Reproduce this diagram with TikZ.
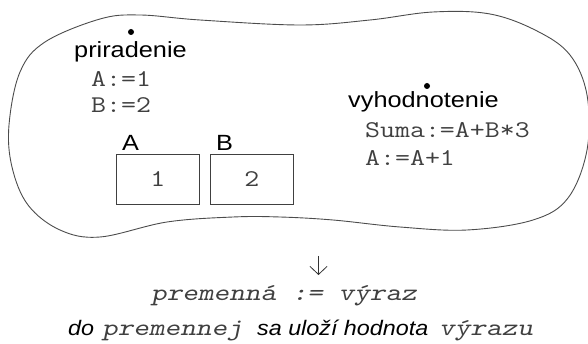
\documentclass[tikz,border=0pt]{standalone}
\usepackage{fontspec}
\usepackage{graphicx}
\setmainfont{Liberation Sans}
\usetikzlibrary{arrows.meta}
\newcommand\hsx[1]{\scalebox{1.15}[1]{#1}}
\newcommand\msx[1]{\scalebox{1.21}[1]{\ttfamily\color{black!75}#1}}
\newcommand\bsx[1]{\scalebox{1.11}[1]{\itshape #1}}
\newcommand\bmx[1]{\scalebox{1.24}[1]{\ttfamily\slshape\color{black!75}#1}}
\tikzset{
  lbl/.style={inner sep=0pt, anchor=base west, font=\fontsize{22}{26}\selectfont},
  code/.style={inner sep=0pt, anchor=base west, font=\fontsize{24}{28}\selectfont},
  cell/.style={draw=black!75, line width=0.9pt, inner sep=0pt, minimum width=83pt, minimum height=50pt, anchor=north west, font=\fontsize{24}{28}\selectfont},
  dotm/.style={fill=black, circle, inner sep=0pt, minimum size=6pt},
  blob/.style={draw=black!70, line width=0.9pt},
  bsans/.style={inner sep=0pt, anchor=base west, font=\fontsize{21}{25}\selectfont},
  bmono/.style={inner sep=0pt, anchor=base west, font=\fontsize{24}{28}\selectfont}
}
\begin{document}
\begin{tikzpicture}[x=1pt,y=-1pt]
\useasboundingbox (0,0) rectangle (588,344);
\draw[blob] plot[smooth cycle, tension=0.6] coordinates {
 (9,125) (20,72) (45,42) (100,19) (140,15) (200,20) (300,25) (370,20) (433,12) (490,14) (537,31) (570,55) (587,95) (587,150) (568,198) (533,220) (467,230) (400,227) (333,220) (280,217) (233,217) (167,222) (100,237) (60,230) (28,205) (12,167)};
% dots
\node[dotm] (d1) at (131,32) {};
\node[dotm] (d2) at (427,86) {};
% left group
\node[lbl] (pri) at (74,58) {\hsx{priradenie}};
\node[code] (c1) at (91,87) {\msx{A:=1}};
\node[code] (c2) at (91,113) {\msx{B:=2}};
\node[lbl] (la) at (122,151) {\hsx{A}};
\node[lbl] (lb) at (216,151) {\hsx{B}};
\node[cell] (ba) at (116,154) {\msx{1}};
\node[cell] (bb) at (210,154) {\msx{2}};
% right group
\node[lbl] (vyh) at (348,108) {\hsx{vyhodnotenie}};
\node[code] (c3) at (365,138) {\msx{Suma:=A+B*3}};
\node[code] (c4) at (365,166) {\msx{A:=A+1}};
% arrow
\coordinate (at) at (318.5,256);
\coordinate (ab) at (318.5,275);
\draw[black!80, line width=0.8pt, -{Straight Barb[length=8pt,width=17pt,line width=0.8pt]}] (at) -- (ab);
% bottom text
\node[bmono] (l1) at (151,300) {\bmx{premenná := výraz}};
\node[bsans] (w1) at (68,335) {\bsx{do}};
\node[bmono] (w2) at (102,335) {\bmx{premennej}};
\node[bsans] (w3) at (257,335) {\bsx{sa uloží hodnota}};
\node[bmono] (w4) at (439,335) {\bmx{výrazu}};
\end{tikzpicture}
\end{document}
